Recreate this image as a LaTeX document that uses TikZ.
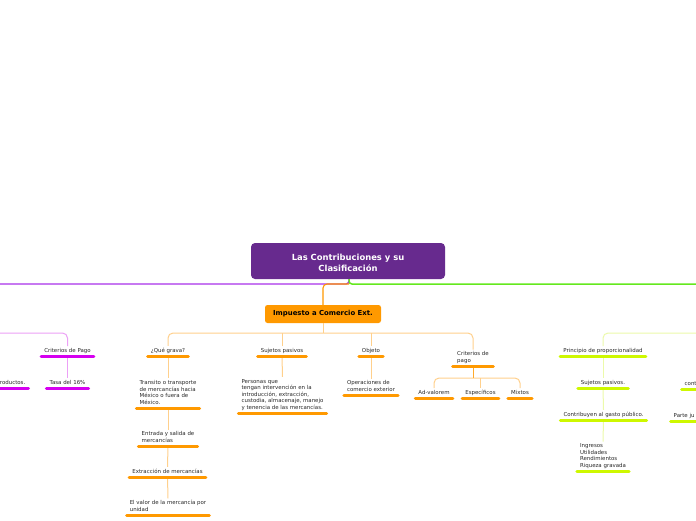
\documentclass[tikz,border=0pt]{standalone}
\usepackage{fontspec}
\setmainfont{DejaVu Sans}
\definecolor{ttlc}{RGB}{103,42,142}
\definecolor{org}{RGB}{255,153,0}
\definecolor{orgl}{RGB}{255,208,140}
\definecolor{mag}{RGB}{214,0,240}
\definecolor{magl}{RGB}{236,160,246}
\definecolor{grn}{RGB}{206,248,0}
\definecolor{grnl}{RGB}{236,250,170}
\definecolor{mgreen}{RGB}{100,232,30}
\definecolor{mpurp}{RGB}{170,50,235}
\definecolor{txtc}{RGB}{40,40,40}
\begin{document}
\begin{tikzpicture}[x=1pt,y=1pt,
  txt/.style={font=\fontsize{5.45}{6.6}\selectfont, text=txtc, inner xsep=4.5pt, inner ysep=2pt, text depth=1.3pt, anchor=south},
  lft/.style={align=left},
  ctr/.style={align=center},
  ul/.style={line width=3pt, line cap=round},
  conn/.style={line width=1pt, rounded corners=5pt}]
\useasboundingbox (0,0) rectangle (696,-520);
\fill[white] (0,0) rectangle (696,-520);

% title
\node[fill=ttlc, rounded corners=4pt, minimum width=194pt, minimum height=36pt,
  text=white, font=\fontsize{8.4}{11}\selectfont\bfseries, align=center] (ttl) at (348,-261) {};
\node[text=white, font=\fontsize{8.4}{11}\selectfont\bfseries, align=center] (ttlt) at (348,-263) {Las Contribuciones y su\\Clasificación};
\node[fill=org, rounded corners=2.5pt, minimum width=116pt, minimum height=18pt,
  text=black, font=\fontsize{6.9}{8}\selectfont\bfseries] (imp) at (323,-314) {Impuesto a Comercio Ext.};

\coordinate (pl) at (0,-284);
\coordinate (gre) at (696,-284);
\coordinate (jn) at (349,-284);
\draw[mpurp, line width=1.4pt, rounded corners=3pt] ([xshift=1pt]ttl.south) |- (pl);
\draw[mgreen, line width=1.5pt, rounded corners=3pt] ([xshift=1pt]ttl.south) |- (gre);
\draw[org, line width=1.1pt, rounded corners=4pt] (jn) -| (imp.north);

% orange branch
\node[txt,ctr] (q) at (168,-356) {¿Qué grava?};
\node[txt,lft] (t1) at (168,-408) {Transito o transporte\\de mercancías hacia\\México o fuera de\\México.};
\node[txt,lft] (t2) at (168,-446) {Entrada y salida de\\mercancías};
\node[txt,ctr] (t3) at (167.5,-477) {Extracción de mercancías};
\node[txt,lft] (t4) at (168,-515) {El valor de la mercancía por\\unidad};
\node[txt,ctr] (sp) at (282,-356) {Sujetos pasivos};
\node[txt,lft] (sp1) at (282.5,-413) {Personas que\\tengan intervención en la\\introducción, extracción,\\custodia, almacenaje, manejo\\y tenencia de las mercancías.};
\node[txt,ctr] (ob) at (371,-356) {Objeto};
\node[txt,lft] (ob1) at (371,-395) {Operaciones de\\comercio exterior};
\node[txt,lft,inner xsep=6pt] (cr) at (473,-366) {Criterios de\\pago};
\node[txt,ctr] (av) at (434,-398) {Ad-valorem};
\node[txt,ctr] (es) at (480.5,-398) {Específicos};
\node[txt,ctr] (mx) at (520,-398) {Mixtos};

\coordinate (bar) at (323,-333);
\coordinate (bar2) at (473,-378);
\draw[conn,orgl] (q.north) |- (bar) -| (cr.north);
\draw[conn,orgl] (sp.north) -- (sp.north |- bar);
\draw[conn,orgl] (ob.north) -- (ob.north |- bar);
\draw[conn,orgl] (imp.south) -- (bar);
\draw[conn,orgl] (q.south) -- (t1.north);
\draw[conn,orgl] (t1.south) -- (t2.north);
\draw[conn,orgl] (t2.south) -- (t3.north);
\draw[conn,orgl] (t3.south) -- (t4.north);
\draw[conn,orgl] (sp.south) -- (sp1.north);
\draw[conn,orgl] (ob.south) -- (ob1.north);
\draw[conn,orgl] (av.north) |- (bar2) -| (mx.north);
\draw[conn,orgl] (es.north) -- (es.north |- bar2);
\draw[conn,org!70!orgl] (cr.south) -- (bar2);

% magenta branch
\node[txt,ctr] (cp) at (67.5,-356) {Criterios de Pago};
\node[txt,ctr] (tasa) at (67.5,-388) {Tasa del 16\%};
\node[txt,ctr,anchor=south east] (rp) at (30,-388) {roductos.};
\coordinate (ml) at (0,-333);
\draw[conn,magl] (ml) -| (cp.north);
\draw[conn,magl] (cp.south) -- (tasa.north);

% green branch
\node[txt,ctr] (pp) at (603,-356) {Principio de proporcionalidad};
\node[txt,ctr] (gs) at (603,-388) {Sujetos pasivos.};
\node[txt,ctr] (cg) at (603.5,-420) {Contribuyen al gasto público.};
\node[txt,lft] (ig) at (603,-471) {Ingresos\\Utilidades\\Rendimientos\\Riqueza gravada};
\node[txt,ctr,anchor=south west] (ct) at (680,-389) {cont};
\node[txt,ctr,anchor=south west] (pj) at (669,-421) {Parte ju};
\coordinate (gr) at (696,-333);
\draw[conn,grnl] (pp.north) |- (gr);
\draw[conn,grnl] (pp.south) -- (gs.north);
\draw[conn,grnl] (gs.south) -- (cg.north);
\draw[conn,grnl] (cg.south) -- (ig.north);

% underlines
\foreach \n in {q,t1,t2,t3,t4,sp,sp1,ob,ob1,cr,av,es,mx}
  \draw[ul,org] ([xshift=1.5pt]\n.south west) -- ([xshift=-1.5pt]\n.south east);
\foreach \n in {cp,tasa,rp}
  \draw[ul,mag] ([xshift=1.5pt]\n.south west) -- ([xshift=-1.5pt]\n.south east);
\foreach \n in {pp,gs,cg,ig,ct,pj}
  \draw[ul,grn] ([xshift=1.5pt]\n.south west) -- ([xshift=-1.5pt]\n.south east);
\end{tikzpicture}
\end{document}
